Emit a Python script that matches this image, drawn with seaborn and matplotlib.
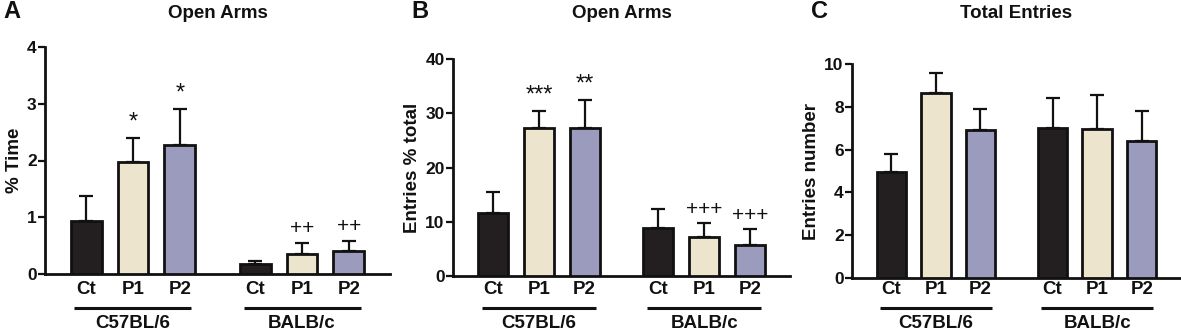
import matplotlib
matplotlib.use("Agg")
import matplotlib.pyplot as plt
import matplotlib.transforms as mtrans
import seaborn as sns
import pandas as pd
import numpy as np

sns.set_theme(style="white")
plt.rcParams['font.family'] = ['Liberation Sans', 'DejaVu Sans']
plt.rcParams['font.weight'] = 'bold'

strains = ["C57BL/6", "BALB/c"]
treatments = ["Ct", "P1", "P2"]
colors = ["#231F20", "#EDE4CE", "#9B9CBD"]

# Panel A: % time in open arms (mean, SEM)
a_mean = [0.93, 1.97, 2.28, 0.17, 0.35, 0.40]
a_sem = [0.45, 0.43, 0.62, 0.06, 0.20, 0.19]
a_marks = ["", "*", "*", "", "++", "++"]

# Panel B: open arm entries % total
b_mean = [11.6, 27.3, 27.3, 8.8, 7.1, 5.7]
b_sem = [3.8, 3.2, 5.2, 3.5, 2.6, 2.9]
b_marks = ["", "***", "**", "", "+++", "+++"]

# Panel C: total entries
c_mean = [4.95, 8.63, 6.93, 7.03, 6.98, 6.40]
c_sem = [0.85, 0.97, 0.95, 1.37, 1.55, 1.40]
c_marks = ["", "", "", "", "", ""]

panels = [
    dict(letter="A", title="Open Arms", ylabel="% Time", mean=a_mean, sem=a_sem,
         marks=a_marks, ymax=4, yticks=[0, 1, 2, 3, 4], px=(45, 390), py=(274, 47), xticks=True),
    dict(letter="B", title="Open Arms", ylabel="Entries % total", mean=b_mean, sem=b_sem,
         marks=b_marks, ymax=40, yticks=[0, 10, 20, 30, 40], px=(453, 790), py=(276, 59), xticks=False),
    dict(letter="C", title="Total Entries", ylabel="Entries number", mean=c_mean, sem=c_sem,
         marks=c_marks, ymax=10, yticks=[0, 2, 4, 6, 8, 10], px=(852, 1181), py=(278, 64), xticks=False),
]

W, H = 1181, 331
INK = "#111111"
fig = plt.figure(figsize=(W / 100, H / 100), dpi=100)

for p in panels:
    x0, x1 = p["px"]
    yb, yt = p["py"]
    ax = fig.add_axes([x0 / W, (H - yb) / H, (x1 - x0) / W, (yb - yt) / H])
    df = pd.DataFrame({
        "strain": np.repeat(strains, 3),
        "treat": treatments * 2,
        "val": p["mean"],
    })
    sns.barplot(data=df, x="strain", y="val", hue="treat", order=strains,
                hue_order=treatments, palette=colors, errorbar=None, dodge=True,
                width=0.83, gap=0.34, edgecolor=INK, linewidth=2.0,
                saturation=1, legend=False, ax=ax, zorder=3)
    bars = sorted(ax.patches, key=lambda r: r.get_x() + r.get_width() / 2)
    xs = [b.get_x() + b.get_width() / 2 for b in bars]
    ys = [b.get_height() for b in bars]
    sem = p["sem"]
    ax.errorbar(xs, ys, yerr=[np.zeros(len(sem)), sem], fmt="none", ecolor=INK,
                elinewidth=1.6, capsize=4.8, capthick=1.6, zorder=2)
    for xi, yi, s, m in zip(xs, ys, sem, p["marks"]):
        if m:
            ax.text(xi, yi + s + p["ymax"] * 0.02, m, ha="center", va="bottom",
                    fontsize=17 if "*" in m else 15, fontweight="normal", color=INK)
    ax.set_xlim(-0.52, 1.52)
    ax.set_ylim(0, p["ymax"])
    ax.set_yticks(p["yticks"])
    ax.set_yticklabels([str(t) for t in p["yticks"]], fontsize=12.5, fontweight="bold")
    if p["xticks"]:
        ax.set_xticks([0, 1])
        ax.set_xticklabels(["", ""])
        ax.tick_params(axis="x", bottom=True, length=5, width=1.6, color=INK, direction="in")
    else:
        ax.set_xticks([])
    ax.tick_params(axis="y", left=True, length=5, width=1.6, color=INK, pad=1, labelcolor=INK)
    ax.set_xlabel("")
    ax.set_ylabel(p["ylabel"], fontsize=13.5, fontweight="bold", color=INK, labelpad=3)
    for s in ["top", "right"]:
        ax.spines[s].set_visible(False)
    for s in ["left", "bottom"]:
        ax.spines[s].set_color(INK)
        ax.spines[s].set_linewidth(2.0)
    ax.grid(False)
    # category labels and group lines (y in figure pixels)
    tr = mtrans.blended_transform_factory(ax.transData, fig.transFigure)
    for xi, lab in zip(xs, treatments * 2):
        ax.text(xi, 1 - 290 / H, lab, transform=tr, ha="center", va="center",
                fontsize=13.5, fontweight="bold", color=INK, clip_on=False)
    for g, sname in enumerate(strains):
        gx = xs[g * 3:(g + 1) * 3]
        half = (gx[1] - gx[0]) * 0.25
        ax.plot([gx[0] - half, gx[2] + half], [1 - 308 / H, 1 - 308 / H], transform=tr,
                color=INK, lw=2.2, clip_on=False, solid_capstyle="butt")
        ax.text(gx[1], 1 - 324 / H, sname, transform=tr, ha="center", va="center",
                fontsize=13.5, fontweight="bold", color=INK, clip_on=False)
    # title and panel letter
    fig.text((x0 + x1) / 2 / W, 1 - 13 / H, p["title"], fontsize=13.5, fontweight="bold",
             ha="center", va="center", color=INK)
    fig.text((x0 - 33) / W, 1 - 12 / H, p["letter"], fontsize=17, fontweight="bold",
             ha="center", va="center", color=INK)

fig.savefig("out.png", dpi=100, facecolor="white")
